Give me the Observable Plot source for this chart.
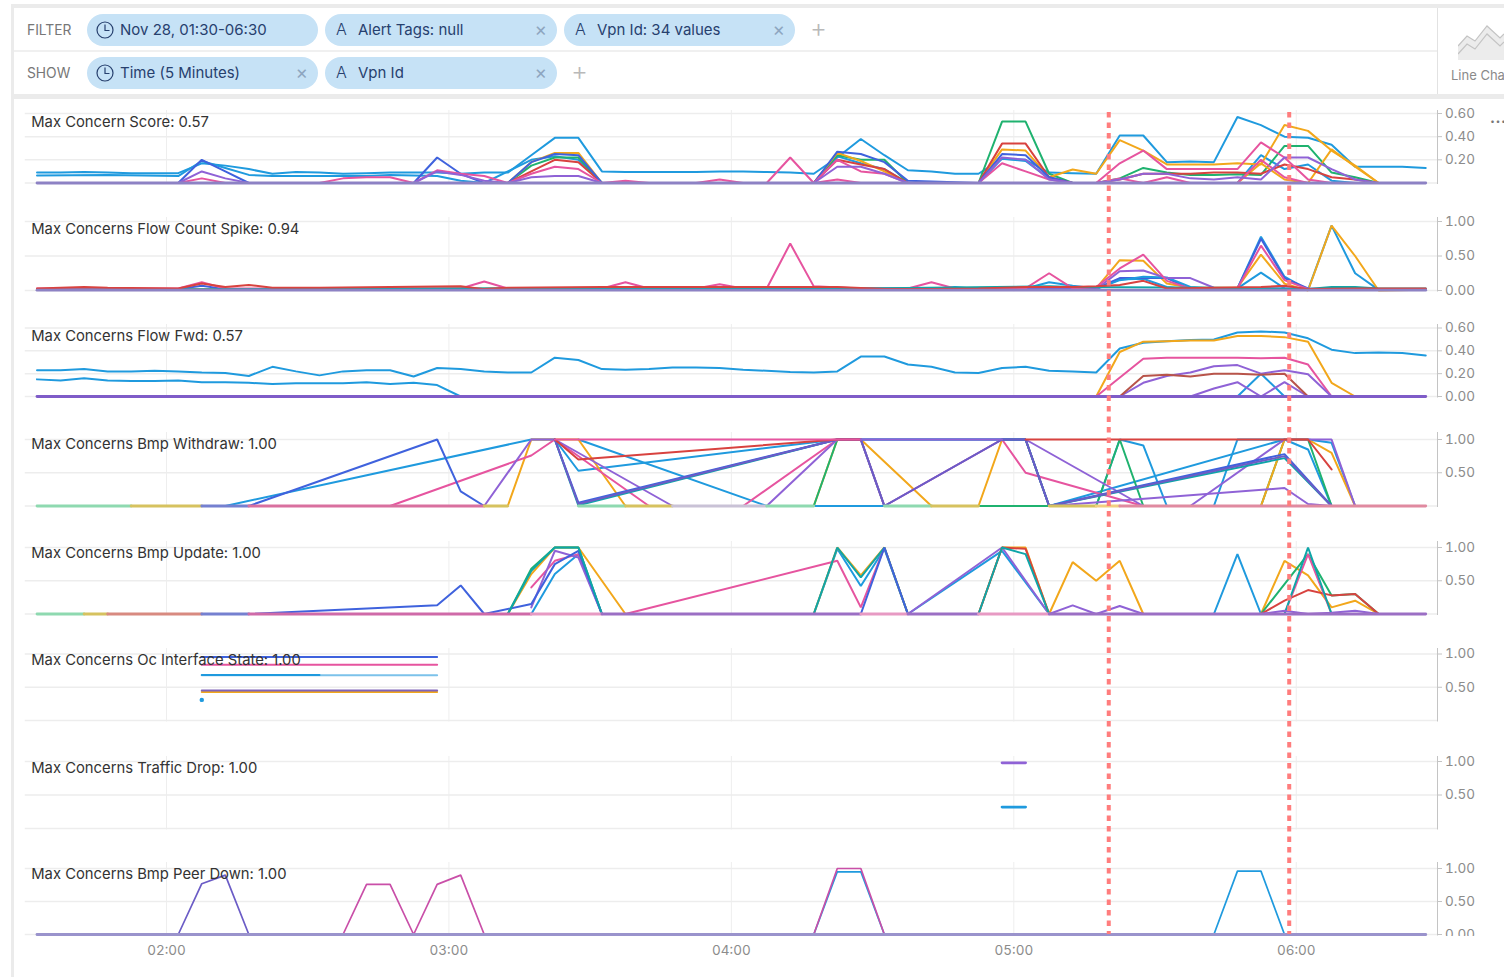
<!DOCTYPE html>
<html><head><meta charset="utf-8">
<script src="https://cdn.jsdelivr.net/npm/d3@7"></script>
<script src="https://cdn.jsdelivr.net/npm/@observablehq/plot@0.6"></script>
<style>
html,body{margin:0;padding:0;background:#fff;width:1504px;height:977px;overflow:hidden;font-family:Inter,"Noto Sans",sans-serif}
.abs{position:absolute}
.bar{position:absolute;background:#ebebeb}
.chip{position:absolute;height:32px;border-radius:16px;background:#c6e2f6;color:#27406e;font-size:15px;line-height:32px;white-space:nowrap}
.chip .lab{position:absolute;left:33px;top:0}
.chip .x{position:absolute;right:10px;top:0;color:#8ea6c0;font-size:19px}
.chip .a{position:absolute;left:11px;top:-1px;font-size:16px;font-weight:300;color:#27406e}
.chip svg{position:absolute;left:8px;top:6px}
.rowlab{position:absolute;left:27px;color:#777;font-size:13.8px}
.plus{position:absolute;color:#b9b9b9;font-size:26px;font-weight:300}
</style></head><body>
<div id="head"></div>
<div id="panels"></div>
<script>
// ---- palette
const blue="#1f9ade", orange="#f2a71b", pink="#e6549f", purple="#8f62d6", green="#1fb26f",
      royal="#3f62dd", red="#d8423f", teal="#0ea5a8", brown="#b8544a", base="#8d82c4";
const paleGreen="#8ed9b0", paleOlive="#d6c25f", paleRoyal="#7580d0", palePink="#d9709f", paleGrey="#c9c2d6", paleOrange="#f2cf80";

// ---- time axis: first 5-minute bin is centred on 01:32:30
const startSeconds = 5550, binSeconds = 300;
const timeOf = k => new Date(Date.UTC(2021,10,28,0,0,startSeconds + k*binSeconds));
const hm = (h,m,s=0) => new Date(Date.UTC(2021,10,28,h,m,s));
const xDomain = [hm(1,30), hm(6,30)];
const hourTicks = [hm(2,0),hm(3,0),hm(4,0),hm(5,0),hm(6,0)];
const markers = [hm(5,20,10), hm(5,58,30)];

// ---- Max Concern Score  [bin, value]
const scoreBlueA=[[0,.09],[1,.09],[2,.095],[3,.09],[4,.085],[5,.085],[6,.085],[7,.17],[8,.15],[9,.12],[10,.08],[11,.095],[12,.09],[13,.08],[14,.085],[15,.09],[16,.09],[17,.09],[18,.08],[19,.09],[20,.09],[21,.24],[22,.39],[23,.39],[24,.1],[25,.095],[26,.095],[27,.095],[28,.095],[29,.1],[30,.1],[31,.095],[32,.09],[33,.08],[34,.22],[35,.38],[36,.24],[37,.11],[38,.1],[39,.08],[40,.08],[41,.21],[42,.2],[43,.09],[44,.085],[45,.08],[46,.41],[47,.41],[48,.18],[49,.185],[50,.18],[51,.57],[52,.5],[53,.4],[54,.39],[55,.33],[56,.14],[57,.14],[58,.14],[59,.13]];
const scoreBlueB=[[0,.065],[3,.07],[6,.06],[7,.19],[8,.13],[9,.07],[10,.06],[14,.06],[15,.07],[17,.06],[18,.02],[19,0],[21,.2],[22,.23],[23,.2],[24,0],[33,0],[34,.23],[35,.17],[36,.12],[37,0],[40,0],[41,.21],[42,.19],[43,.04],[44,0],[51,0],[52,.24],[53,.12],[54,.16],[55,.02],[56,0]];
const scoreRoyal=[[6,0],[7,.2],[8,.1],[9,0],[16,0],[17,.22],[18,.08],[19,0],[20,0],[21,.18],[22,.25],[23,.24],[24,0],[33,0],[34,.27],[35,.25],[36,.18],[37,.02],[40,0],[41,.25],[42,.24],[43,.05],[44,0]];
const scorePurple=[[6,0],[7,.1],[8,.04],[9,0],[16,0],[17,.1],[18,.07],[19,.02],[20,0],[21,.05],[22,.06],[23,.06],[24,0],[33,0],[34,.14],[35,.14],[36,.08],[37,0],[40,0],[41,.22],[42,.2],[43,.03],[44,0],[45,0],[46,.03],[47,.08],[48,.08],[49,.04],[50,.03],[51,.05],[52,.03],[53,.22],[54,.22],[55,.12],[56,.03],[57,0]];
const scoreOrange=[[20,0],[21,.18],[22,.26],[23,.26],[24,0],[33,0],[34,.26],[35,.19],[36,.1],[37,0],[40,0],[41,.29],[42,.28],[43,.05],[44,.117],[45,.08],[46,.37],[47,.28],[48,.16],[49,.16],[50,.16],[51,.17],[52,.16],[53,.5],[54,.45],[55,.28],[56,.15],[57,0]];
const scoreOrangeB=[[51,0],[52,.17],[53,.03],[54,0],[55,.29],[56,.14],[57,0]];
const scoreGreen=[[20,0],[21,.15],[22,.22],[23,.22],[24,0],[33,0],[34,.24],[35,.2],[36,.2],[37,0],[40,0],[41,.53],[42,.53],[43,.08],[44,0],[45,0],[46,.04],[47,.13],[48,.09],[49,.07],[50,.07],[51,.075],[52,.07],[53,.32],[54,.32],[55,.09],[56,.05],[57,0]];
const scoreRed=[[20,0],[21,.1],[22,.2],[23,.18],[24,0],[33,0],[34,.2],[35,.16],[36,.12],[37,0],[40,0],[41,.34],[42,.34],[43,.05],[44,0],[45,0],[46,.03],[47,.08],[48,.08],[49,.08],[50,.09],[51,.09],[52,.08],[53,.16],[54,.12],[55,.05],[56,.03],[57,0]];
const scorePink=[[6,0],[7,.04],[8,0],[16,0],[17,.11],[18,.08],[19,.06],[20,0],[21,.08],[22,.14],[23,.12],[24,0],[25,.02],[26,0],[28,0],[29,.03],[30,0],[31,0],[32,.22],[33,0],[34,.2],[35,.1],[36,.08],[37,0],[40,0],[41,.17],[42,.1],[43,.03],[44,0],[45,0],[46,.17],[47,.28],[48,.12],[49,.12],[50,.12],[51,.12],[52,.35],[53,.22],[54,.03],[55,0]];
const scorePinkB=[[12,0],[13,.04],[14,.05],[15,.05],[16,0],[23,0],[31,0],[33,0],[34,.03],[35,0],[45,0],[46,.04],[47,0],[48,.05],[49,0],[51,0],[52,.2],[53,.05],[54,0]];
const scoreZero=[[0,0],[59,0]];

// ---- Max Concerns Flow Count Spike
const flowRed=[[0,.03],[2,.05],[3,.04],[6,.03],[7,.1],[8,.05],[9,.08],[10,.04],[12,.04],[15,.05],[18,.06],[19,.02],[20,.04],[24,.05],[28,.05],[32,.05],[34,.05],[36,.02],[38,.02],[40,.03],[42,.05],[44,.05],[45,.06],[46,.08],[47,.14],[48,.03],[50,.04],[52,.05],[53,.07],[54,.02],[56,.03],[59,.03]];
const flowPink=[[0,.03],[6,.03],[7,.12],[8,.03],[18,.03],[19,.13],[20,.03],[24,.03],[25,.12],[26,.03],[28,.03],[29,.09],[30,.03],[31,.03],[32,.68],[33,.06],[35,.03],[37,.03],[38,.12],[39,.03],[42,.03],[43,.25],[44,.03],[45,.05],[46,.32],[47,.52],[48,.14],[49,.03],[51,.03],[52,.65],[53,.15],[54,.02],[59,.02]];
const flowOrange=[[0,.02],[45,.03],[46,.44],[47,.43],[48,.1],[49,.04],[51,.04],[52,.52],[53,.1],[54,0],[55,.94],[56,.5],[57,0],[59,.01]];
const flowPurple=[[0,.01],[45,.02],[46,.28],[47,.29],[48,.18],[49,.18],[50,.04],[59,.01]];
const flowBlue=[[0,.02],[31,.02],[32,.03],[38,.02],[39,.05],[40,.02],[42,.03],[43,.12],[44,.07],[45,.03],[46,.16],[47,.17],[48,.05],[49,.02],[51,.03],[52,.78],[53,.2],[54,.01],[55,.94],[56,.25],[57,.01],[59,.01]];
const flowBlueB=[[45,.02],[46,.15],[47,.2],[48,.19],[49,.05],[50,.03],[51,.03],[52,.26],[53,.03],[54,.02]];
const flowRoyal=[[6,.02],[7,.07],[8,.02],[44,.03],[45,.03],[46,.18],[47,.18],[48,.18],[49,.02],[51,.03],[52,.75],[53,.18],[54,.03]];
const flowTeal=[[0,.01],[10,.02],[25,.04],[35,.03],[43,.06],[44,.05],[50,.04],[54,.02],[55,.05],[56,.05],[57,.03],[59,.03]];
const flowZero=[[0,.005],[59,.005]];

// ---- Max Concerns Flow Fwd
const fwdBlueA=[[0,.23],[1,.23],[2,.24],[3,.22],[4,.22],[5,.225],[6,.22],[7,.21],[8,.205],[9,.18],[10,.26],[11,.22],[12,.185],[13,.22],[14,.23],[15,.23],[16,.175],[17,.25],[18,.24],[19,.22],[20,.21],[21,.21],[22,.34],[23,.32],[24,.24],[25,.235],[26,.24],[27,.255],[28,.255],[29,.25],[30,.235],[31,.225],[32,.215],[33,.21],[34,.22],[35,.35],[36,.35],[37,.28],[38,.26],[39,.21],[40,.205],[41,.25],[42,.26],[43,.225],[44,.22],[45,.21],[46,.42],[47,.47],[48,.485],[49,.495],[50,.5],[51,.56],[52,.57],[53,.56],[54,.51],[55,.41],[56,.38],[57,.385],[58,.38],[59,.36]];
const fwdBlueB=[[0,.15],[1,.14],[2,.16],[3,.14],[4,.135],[5,.135],[6,.14],[7,.125],[8,.125],[9,.12],[10,.11],[11,.115],[12,.115],[13,.115],[14,.125],[15,.11],[16,.12],[17,.1],[18,0],[19,0]];
const fwdOrange=[[45,0],[46,.39],[47,.48],[48,.485],[49,.49],[50,.49],[51,.53],[52,.53],[53,.52],[54,.48],[55,.12],[56,0],[59,0]];
const fwdPink=[[45,0],[47,.33],[48,.34],[49,.34],[50,.34],[51,.34],[52,.335],[53,.34],[54,.28],[55,0]];
const fwdBrown=[[46,0],[47,.18],[48,.19],[49,.175],[50,.2],[51,.2],[52,.19],[53,.2],[54,0]];
const fwdPurple=[[46,0],[47,.12],[48,.18],[49,.21],[50,.265],[51,.275],[52,.2],[53,.23],[54,.195],[55,0]];
const fwdPurpleB=[[49,0],[50,.07],[51,.125],[52,0],[53,.125],[54,0]];
const fwdBlueC=[[51,0],[52,.2],[53,0]];
const fwdBase=[[0,0],[59,0]];

// ---- Max Concerns Bmp Withdraw
const wdRoyal=[[7,0],[9,0],[17,1],[18,.22],[19,0]];
const wdBlueUp=[[8,0],[21,1],[22,1],[23,.53],[34,1],[35,1]];
const wdPink=[[15,0],[21,.76],[22,1],[26,0],[30,0],[34,1],[35,1],[36,0],[41,1],[42,.5],[47,0]];
const wdPurple=[[19,0],[21,1],[22,1],[27,0],[31,0],[34,1],[35,1],[36,0],[41,1],[42,1],[47,0]];
const wdOrange=[[20,0],[21,1],[23,1],[25,0],[33,0],[34,1],[35,1],[38,0],[40,0],[41,1],[42,1],[43,0]];
const wdTopPink=[[22,1],[35,1]];
const wdTopPurple=[[35,1],[41,1]];
const wdRed=[[22,1],[23,.7],[34,1],[35,1]];
const wdRedEnd=[[42,1],[54,1],[55,.55]];
const wdBundleA=[[22,1],[23,.03],[34,1],[35,1],[36,0],[41,1],[42,1],[43,0],[53,.75],[55,0]];
const wdBundleB=[[22,1],[23,.05],[34,1],[42,1],[43,0],[53,.78],[55,0]];
const wdBundleC=[[22,1],[23,.01],[34,1],[42,1],[43,0],[53,.72],[55,0]];
const wdBlueDown=[[23,1],[31,0],[43,0],[53,1],[54,.85],[55,0]];
const wdGreen=[[33,0],[34,1],[35,1],[36,0],[45,0],[46,1],[47,0],[52,0],[53,1],[54,1],[55,0]];
const wdPurpleLow=[[43,0],[53,.27],[54,.03],[55,0]];
const wdBlueSpike=[[41,1],[42,1],[43,0],[45,0],[46,1],[47,.91],[48,0],[50,0],[51,1],[54,1],[55,.95],[56,0]];
const wdPurpleEnd=[[48,0],[49,0],[53,1],[55,1],[56,0]];
const wdOrangeEnd=[[52,0],[53,1],[54,1],[55,.8],[56,0]];
const wdBaseGreen=[[0,0],[4,0]];
const wdBaseOlive=[[4,0],[7,0]];
const wdBaseRoyal=[[7,0],[9,0]];
const wdBasePink=[[9,0],[19,0]];
const wdBaseOlive2=[[19,0],[20,0]];
const wdBaseGreen2=[[23,0],[25,0]];
const wdBaseOlive3=[[25,0],[27,0]];
const wdBaseGrey=[[27,0],[31,0]];
const wdBaseGreen3=[[31,0],[33,0]];
const wdBaseGreen4=[[36,0],[38,0]];
const wdBaseOlive4=[[38,0],[40,0]];
const wdBaseOlive5=[[43,0],[45,0]];
const wdBaseOrange=[[45,0],[46,0]];
const wdBasePinkEnd=[[46,0],[59,0]];

// ---- Max Concerns Bmp Update
const upRoyal=[[7,0],[9,0],[17,.13],[18,.43],[19,0],[21,.15],[22,.75],[23,.95],[24,0]];
const upRoyalB=[[35,0],[36,1],[37,0]];
const upOrange=[[20,0],[21,.6],[22,1],[23,1],[25,0]];
const upGreen=[[20,0],[21,.68],[22,1],[23,1],[24,0]];
const upTeal=[[20,0],[21,.65],[22,1],[23,1],[24,0],[33,0],[34,1],[35,.55],[36,1],[37,0],[40,0],[41,1],[42,.9],[43,0]];
const upBlue=[[21,0],[22,.6],[23,.9],[24,0],[33,0],[34,.98],[35,.42],[36,.98],[37,0],[41,.95],[43,0]];
const upPink=[[21,.4],[22,.8],[23,.9],[24,0]];
const upPurple=[[21,.1],[22,.95],[23,.85],[24,0],[37,0],[41,1],[42,.5],[43,0]];
const upPinkLong=[[25,0],[34,.8],[35,.1],[36,1],[37,0]];
const upOrangeB=[[33,0],[34,1],[35,.58],[36,1],[37,0],[40,0],[41,1],[42,1],[43,0],[44,.78],[45,.5],[46,.8],[47,0]];
const upRed=[[40,0],[41,1],[42,.98],[43,0]];
const upPurpleLow=[[43,0],[44,.13],[45,0],[46,.12],[47,0]];
const upBlueSpike=[[50,0],[51,.9],[52,0]];
const upOrangeEnd=[[52,0],[53,.8],[54,.58],[55,.1],[56,.2],[57,0]];
const upGreenEnd=[[52,0],[54,.9],[55,.28],[56,.3],[57,0]];
const upRedEnd=[[52,0],[53,.2],[54,.36],[55,.28],[56,.3],[57,0]];
const upTealEnd=[[53,0],[54,1],[55,0]];
const upPinkEnd=[[53,0],[54,.9],[55,0]];
const upPurpleEnd=[[52,0],[53,.05],[54,0],[55,.02],[56,.05],[57,0]];
const upBaseGreen=[[0,0],[2,0]];
const upBaseOlive=[[2,0],[3,0]];
const upBaseRed=[[3,0],[7,0]];
const upBaseRoyal=[[7,0],[9,0]];
const upBasePink=[[9,0],[21,0]];
const upBasePinkPale=[[21,0],[24,0]];
const upBasePurple=[[24,0],[35,0]];
const upBasePinkPale2=[[35,0],[37,0]];
const upBasePurple2=[[37,0],[40,0]];
const upBasePinkPale3=[[40,0],[43,0]];
const upBasePurple3=[[43,0],[59,0]];

// ---- Max Concerns Oc Interface State
const ocRoyal=[[7,.955],[17,.955]];
const ocPink=[[7,.84],[17,.84]];
const ocBlueLight=[[7,.68],[17,.68]];
const ocBlue=[[7,.685],[12,.685]];
const ocOrange=[[7,.43],[17,.43]];
const ocPurple=[[7,.45],[17,.45]];
const ocDot=[[7,.31]];

// ---- Max Concerns Traffic Drop
const dropPurple=[[41,.98],[42,.98]];
const dropBlue=[[41,.32],[42,.32]];

// ---- Max Concerns Bmp Peer Down
const peerBlue=[[0,0],[33,0],[34,.95],[35,.95],[36,0],[50,0],[51,.96],[52,.96],[53,0],[59,0]];
const peerPurple=[[0,0],[6,0],[7,.77],[8,.9],[9,0],[59,0]];
const peerPink=[[9,0],[13,0],[14,.76],[15,.76],[16,0],[17,.76],[18,.9],[19,0],[33,0],[34,1],[35,1],[36,0],[59,0]];
const peerBase=[[0,0],[59,0]];

// ---- panels
const panels=[
 {title:"Max Concern Score: 0.57",top:110,zero:182.5,one:113,max:.6,ticks:[.2,.4,.6],series:[[blue,scoreBlueA],[blue,scoreBlueB],[green,scoreGreen],[orange,scoreOrange],[orange,scoreOrangeB],[red,scoreRed],[royal,scoreRoyal],[pink,scorePink],[pink,scorePinkB],[purple,scorePurple]],bases:[[base,scoreZero]]},
 {title:"Max Concerns Flow Count Spike: 0.94",top:217,zero:290,one:221,max:1,ticks:[0,.5,1],series:[[blue,flowBlue],[orange,flowOrange],[royal,flowRoyal],[blue,flowBlueB],[purple,flowPurple],[pink,flowPink],[teal,flowTeal],[red,flowRed]],bases:[[base,flowZero]]},
 {title:"Max Concerns Flow Fwd: 0.57",top:324,zero:396,one:327.5,max:.6,ticks:[0,.2,.4,.6],series:[[blue,fwdBlueA],[blue,fwdBlueB],[orange,fwdOrange],[pink,fwdPink],[blue,fwdBlueC],[purple,fwdPurple],[purple,fwdPurpleB],[brown,fwdBrown]],bases:[["#7f5cc8",fwdBase]]},
 {title:"Max Concerns Bmp Withdraw: 1.00",top:432,zero:505.5,one:439,max:1,ticks:[.5,1],series:[[blue,wdBlueUp],[blue,wdBlueDown],[blue,wdBlueSpike],[orange,wdOrange],[green,wdGreen],[orange,wdOrangeEnd],[pink,wdPink],[royal,wdRoyal],[purple,wdPurple],[purple,wdPurpleLow],[purple,wdPurpleEnd],[teal,wdBundleC],[royal,wdBundleB],["#6b5cc6",wdBundleA],[red,wdRed],[pink,wdTopPink],[purple,wdTopPurple],[red,wdRedEnd]],
  bases:[[paleGreen,wdBaseGreen],[paleOlive,wdBaseOlive],[paleRoyal,wdBaseRoyal],[palePink,wdBasePink],[paleOlive,wdBaseOlive2],[paleGreen,wdBaseGreen2],[paleOlive,wdBaseOlive3],[paleGrey,wdBaseGrey],[paleGreen,wdBaseGreen3],[paleGreen,wdBaseGreen4],[paleOlive,wdBaseOlive4],[paleOlive,wdBaseOlive5],[paleOrange,wdBaseOrange],["#e08aa0",wdBasePinkEnd]]},
 {title:"Max Concerns Bmp Update: 1.00",top:541,zero:613.5,one:547,max:1,ticks:[.5,1],series:[[orange,upOrange],[green,upGreen],[blue,upBlue],[pink,upPink],[purple,upPurple],[royal,upRoyal],[pink,upPinkLong],[orange,upOrangeB],[red,upRed],[teal,upTeal],[royal,upRoyalB],[purple,upPurpleLow],[blue,upBlueSpike],[orange,upOrangeEnd],[green,upGreenEnd],[red,upRedEnd],[pink,upPinkEnd],[teal,upTealEnd],[purple,upPurpleEnd]],
  bases:[[paleGreen,upBaseGreen],[paleOlive,upBaseOlive],["#d88a80",upBaseRed],[paleRoyal,upBaseRoyal],["#cf6aa8",upBasePink],["#e79ac3",upBasePinkPale],["#9b6fc4",upBasePurple],["#e79ac3",upBasePinkPale2],["#9b6fc4",upBasePurple2],["#e79ac3",upBasePinkPale3],["#9b6fc4",upBasePurple3]]},
 {title:"Max Concerns Oc Interface State: 1.00",top:648,zero:720,one:653.5,max:1,ticks:[.5,1],series:[[royal,ocRoyal],[pink,ocPink],["#7cc2ea",ocBlueLight],[blue,ocBlue],[orange,ocOrange],["#7f62b8",ocPurple]],dots:[[blue,ocDot]],bases:[]},
 {title:"Max Concerns Traffic Drop: 1.00",top:756,zero:828,one:761,max:1,ticks:[.5,1],lineWidth:2.8,series:[[purple,dropPurple],[blue,dropBlue]],bases:[]},
 {title:"Max Concerns Bmp Peer Down: 1.00",top:862,zero:934,one:868,max:1,ticks:[0,.5,1],clip:936,lineWidth:1.7,series:[[blue,peerBlue],["#6b5cc6",peerPurple],["#c94fa8",peerPink]],bases:[["#9a93cc",peerBase]]}
];

const rowsOf = list => list.flatMap(([color,pts],i)=>pts.map(([k,v])=>({id:i,color,t:timeOf(k),v})));
const W=1504, ML=24.75, MR=67;
const host=document.getElementById("panels");

panels.forEach(p=>{
  const svgTop=p.top-10, svgBottom=p.clip ?? p.zero+10, H=svgBottom-svgTop;
  const mb=svgBottom-(p.zero+1.5);
  const chart=Plot.plot({
    width:W,height:H,marginLeft:ML,marginRight:MR,marginTop:10,marginBottom:mb,
    style:{background:"transparent",overflow:"hidden"},
    x:{type:"utc",domain:xDomain,axis:null},
    y:{domain:[0,p.max],range:[p.zero-svgTop,p.one-svgTop],axis:null},
    color:{type:"identity"},
    marks:[
      Plot.ruleX(hourTicks,{stroke:"#eeeeee",strokeWidth:1}),
      Plot.ruleY([0,...p.ticks.filter(t=>t>0)],{stroke:"#ededed",strokeWidth:1.5}),
      Plot.ruleX([xDomain[1]],{stroke:"#c4c4c4",strokeWidth:1}),
      Plot.axisY({anchor:"right",ticks:p.ticks,tickFormat:d3.format(".2f"),tickSize:4,tickPadding:3.5,label:null,
        fontSize:13.5,stroke:"#c4c4c4",color:"#8c8c8c",fill:"#8c8c8c",fontFamily:"Inter"}),
      Plot.line(rowsOf(p.series),{x:"t",y:"v",z:"id",stroke:"color",strokeWidth:p.lineWidth ?? 2,strokeLinejoin:"miter"}),
      Plot.line(rowsOf(p.bases),{x:"t",y:"v",z:"id",stroke:"color",strokeWidth:2.8}),
      ...(p.dots?[Plot.dot(rowsOf(p.dots),{x:"t",y:"v",r:2.2,fill:"color"})]:[]),
      Plot.text([p.title],{frameAnchor:"top-left",dx:6,dy:6,lineAnchor:"top",textAnchor:"start",fontSize:14.8,fill:"#333",fontFamily:"Inter"})
    ]
  });
  chart.style.position="absolute";chart.style.left="0";chart.style.top=svgTop+"px";
  host.appendChild(chart);
});

// time axis + incident markers on one overlay
const overlayTop=100, overlayH=877;
const overlay=Plot.plot({
  width:W,height:overlayH,marginLeft:ML,marginRight:MR,marginTop:12,marginBottom:overlayH-834,
  style:{background:"transparent"},
  x:{type:"utc",domain:xDomain,axis:null},
  y:{axis:null},
  marks:[
    Plot.ruleX(markers,{stroke:"#ff7d7d",strokeWidth:4,strokeDasharray:"5.5,5"}),
    Plot.axisX({ticks:hourTicks,tickFormat:d3.utcFormat("%H:%M"),anchor:"bottom",tickSize:0,tickPadding:11,label:null,
      fontSize:13.5,color:"#8c8c8c",fill:"#8c8c8c",fontFamily:"Inter"})
  ]
});
overlay.style.position="absolute";overlay.style.left="0";overlay.style.top=overlayTop+"px";overlay.style.overflow="visible";
host.appendChild(overlay);

// ---- query bar
const clock='<svg width="20" height="20" viewBox="0 0 20 20" fill="none" stroke="#27406e" stroke-width="1.2"><circle cx="10" cy="10" r="8"/><path d="M10 4.5V10.5H14.5"/></svg>';
const chips=[
 {row:14,x:87,w:231,icon:"c",text:"Nov 28, 01:30-06:30",close:false},
 {row:14,x:325,w:232,icon:"a",text:"Alert Tags: null",close:true},
 {row:14,x:564,w:231,icon:"a",text:"Vpn Id: 34 values",close:true},
 {row:57,x:87,w:231,icon:"c",text:"Time (5 Minutes)",close:true},
 {row:57,x:325,w:232,icon:"a",text:"Vpn Id",close:true}
];
let h='';
h+='<div class="bar" style="left:11px;top:4px;width:1493px;height:4px"></div>';
h+='<div class="bar" style="left:11px;top:94px;width:1493px;height:5px"></div>';
h+='<div class="bar" style="left:11px;top:4px;width:3px;height:973px"></div>';
h+='<div class="bar" style="left:14px;top:50px;width:1423px;height:1.5px;background:#f0f0f0"></div>';
h+='<div class="bar" style="left:1436.5px;top:8px;width:1px;height:86px;background:#e2e2e2"></div>';
h+='<div class="rowlab" style="top:22px">FILTER</div><div class="rowlab" style="top:65px">SHOW</div>';
chips.forEach(c=>{
  h+=`<div class="chip" style="left:${c.x}px;top:${c.row}px;width:${c.w}px">`+
     (c.icon==="c"?clock:'<span class="a">A</span>')+
     `<span class="lab">${c.text}</span>`+(c.close?'<span class="x">×</span>':'')+`</div>`;
});
h+='<div class="plus" style="left:810px;top:12px">+</div><div class="plus" style="left:571px;top:55px">+</div>';
h+='<svg class="abs" style="left:1458px;top:24px" width="46" height="38" viewBox="0 0 46 38"><path d="M0 22 L9 12 L17 17 L29 2 L42 14 L46 10 V36 H0Z" fill="#ececec"/><path d="M0 22 L9 12 L17 17 L29 2 L42 14 L46 10M0 30 L9 20 L17 25 L29 10 L42 22 L46 18" fill="none" stroke="#c4c4c4" stroke-width="1.2"/></svg>';
h+='<div class="abs" style="left:1451px;top:67px;font-size:13px;color:#8a8a8a;white-space:nowrap">Line Chart</div>';
h+='<div class="abs" style="left:1490px;top:108px;font-size:15px;color:#777;letter-spacing:.5px;white-space:nowrap;font-weight:700">...</div>';
document.getElementById("head").innerHTML=h;
</script>
</body></html>
